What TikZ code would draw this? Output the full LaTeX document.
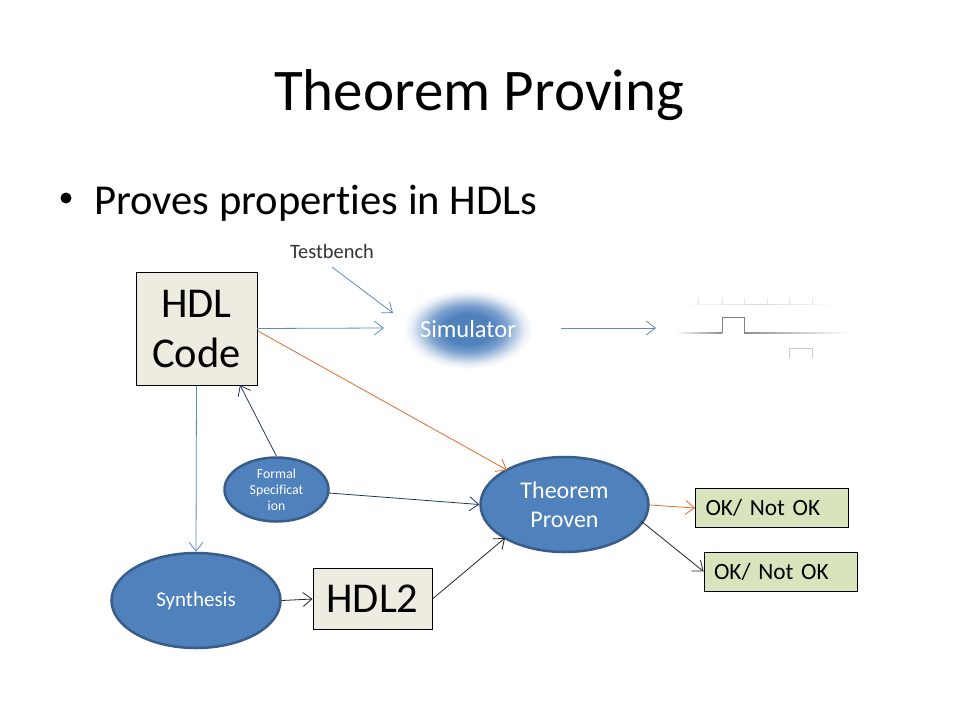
\documentclass[tikz,border=0pt]{standalone}
\usepackage{fontspec}
\setmainfont[Ligatures=NoCommon]{Carlito}
\usetikzlibrary{arrows.meta,shapes.geometric}
\definecolor{tan1}{HTML}{EEECE1}
\definecolor{grn1}{HTML}{D7E4BC}
\definecolor{blu1}{HTML}{4F81BD}
\definecolor{blu2}{HTML}{385D8A}
\definecolor{lnblue}{HTML}{5B8DBE}
\definecolor{lnor}{HTML}{E46C2A}
\definecolor{lnnavy}{HTML}{1F3A5F}
\pgfdeclareradialshading{glow}{\pgfpoint{0bp}{0bp}}{
 color(0bp)=(blu1); color(9bp)=(blu1); color(14bp)=(blu1!75!white); color(18bp)=(blu1!38!white); color(21bp)=(blu1!12!white); color(24bp)=(white); color(50bp)=(white)}
\tikzset{
 x=1pt,y=-1pt,
 box/.style={draw=black,line width=0.8pt,fill=tan1,align=center,inner sep=0pt,text=black},
 okbox/.style={draw=black,line width=0.8pt,fill=grn1,inner sep=0pt,minimum width=153pt,minimum height=39pt,text width=133pt,align=left,text=black,font=\fontsize{23.3}{24}\selectfont},
 oval/.style={ellipse,draw=blu2,line width=2.5pt,fill=blu1,inner sep=0pt,align=center,text=white},
 conn/.style={line width=0.8pt,-{Straight Barb[length=9pt,width=14pt,line width=0.8pt]}},
 bluecon/.style={conn,draw=lnblue},
 orcon/.style={conn,draw=lnor},
 navycon/.style={conn,draw=lnnavy},
 blackcon/.style={conn,draw=black!85},
}
\begin{document}
\begin{tikzpicture}
\useasboundingbox[fill=white] (0,0) rectangle (960,720);
\node[text=black,font=\fontsize{59}{59}\selectfont] (title) at (479,95) {Theorem Proving};
\node[text=black,font=\fontsize{42.6}{42}\selectfont,anchor=west] (bullet) at (90.8,203) {Proves properties in HDLs};
\fill[black] (66,198) circle (5.5pt);
\node[text=black!80,font=\fontsize{20.4}{20}\selectfont] (tb) at (332,251) {Testbench};
\node[box,minimum width=121pt,minimum height=113pt,font=\fontsize{42.5}{50}\selectfont] (hdl) at (196.5,329) {\raisebox{-1pt}{HDL}\\\raisebox{-1pt}{Code}};
% simulator glow
\shade[shading=glow] (468,329) ellipse (68pt and 42pt);
\node[text=white,font=\fontsize{24.5}{24}\selectfont] (sim) at (468,329) {Simulator};
% waveform
\shade[left color=white,right color=white,middle color=black!15] (680,304) rectangle (840,304.8);
\foreach \xx in {698,722,744,767,789,812}{\fill[black!10] (\xx,298) rectangle (\xx+0.8,304);}
\shade[left color=white,right color=black!45] (675,332.5) rectangle (722,333.5);
\shade[left color=black!45,right color=white] (744,332.5) rectangle (848,333.5);
\draw[black!50,line width=0.9pt] (722,333) -- (722,317) -- (744,317) -- (744,333);
\draw[black!20,line width=0.8pt] (789,358) -- (789,348) -- (812,348) -- (812,358);
\node[oval,minimum width=104pt,minimum height=64pt,font=\fontsize{13.8}{16}\selectfont] (spec) at (276.5,489.5) {Formal\\Specificat\\ion};
\node[oval,minimum width=168pt,minimum height=95pt,font=\fontsize{24}{29}\selectfont] (thm) at (564.5,504.5) {Theorem\\Proven};
\node[oval,minimum width=169pt,minimum height=95pt,font=\fontsize{21}{21}\selectfont] (syn) at (196,600.5) {Synthesis};
\node[box,minimum width=119pt,minimum height=61pt,font=\fontsize{42.5}{42}\selectfont] (hdl2) at (372.5,599) {HDL2};
\node[okbox] (ok1) at (772,508) {OK/ Not OK};
\node[okbox] (ok2) at (780.5,571.5) {OK/ Not OK};
\coordinate (tbs) at (332,267);
\coordinate (tbe) at (393,313);
\coordinate (h1) at (257,328.5);
\coordinate (h1e) at (384,328);
\coordinate (s1) at (561,328);
\coordinate (s1e) at (656,328);
\coordinate (hor) at (258,331);
\coordinate (thmor) at (507,470);
\coordinate (hspec) at (240,385);
\coordinate (specth) at (329,493);
\coordinate (thmin) at (505,538);
\coordinate (thor) at (650,505);
\coordinate (thbl) at (641,521);
\draw[bluecon] (tbs) -- (tbe);
\draw[bluecon] (h1) -- (h1e);
\draw[bluecon] (s1) -- (s1e);
\draw[orcon] (hor) -- (thmor);
\draw[navycon] (spec.north) -- (hspec);
\draw[navycon] (specth) -- (thm.west);
\draw[bluecon] (hdl.south) -- (syn.north);
\draw[blackcon] (syn.east) -- (hdl2.west);
\draw[blackcon] (hdl2.east) -- (thmin);
\draw[orcon] (thor) -- (ok1.west);
\draw[blackcon] (thbl) -- (ok2.west);
\end{tikzpicture}
\end{document}
